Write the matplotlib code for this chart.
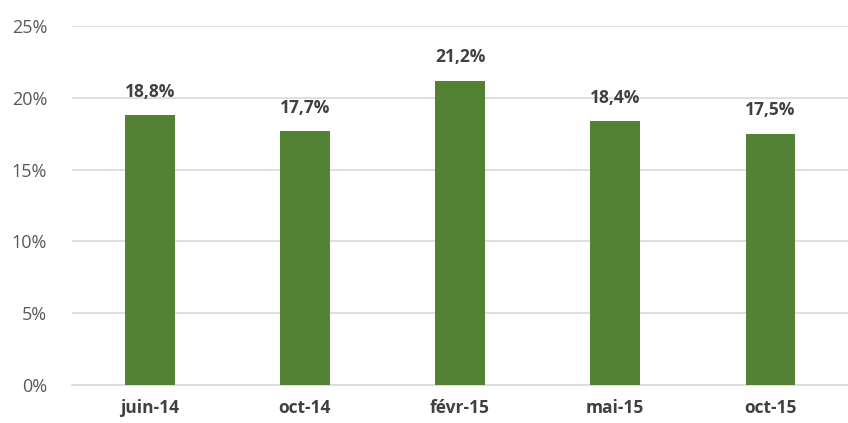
import matplotlib.pyplot as plt
from matplotlib.ticker import FuncFormatter

# ---------- DATA ----------
categories = ["juin-14", "oct-14", "févr-15", "mai-15", "oct-15"]
values = [18.8, 17.7, 21.2, 18.4, 17.5]
value_labels = ["18,8%", "17,7%", "21,2%", "18,4%", "17,5%"]
y_ticks = [0, 5, 10, 15, 20, 25]

GREEN = "#548235"
GRID = "#d9d9d9"
TICK = "#595959"
LABEL = "#404040"

plt.rcParams["font.family"] = ["Open Sans", "DejaVu Sans"]

fig = plt.figure(figsize=(8.48, 4.23), dpi=100)
ax = fig.add_axes([0.085, 0.09, 0.915, 0.848])

x = list(range(len(categories)))
ax.bar(x, values, width=0.32, color=GREEN, zorder=3)

for xi, v, lab in zip(x, values, value_labels):
    ax.text(xi, v + 1.0, lab, ha="center", va="bottom",
            fontsize=12.5, fontweight="bold", color=LABEL)

ax.set_xlim(-0.5, len(categories) - 0.5)
ax.set_ylim(0, 25)
ax.set_yticks(y_ticks)
ax.yaxis.set_major_formatter(FuncFormatter(lambda v, p: f"{v:.0f}%"))
ax.set_xticks(x)
ax.set_xticklabels(categories, fontsize=12.5, fontweight="bold", color=LABEL)
ax.tick_params(axis="y", labelsize=13, labelcolor=TICK, length=0, pad=18)
ax.tick_params(axis="x", length=0, pad=10)

ax.grid(axis="y", color=GRID, linewidth=1.2, zorder=0)
for s in ["top", "right", "left"]:
    ax.spines[s].set_visible(False)
ax.spines["bottom"].set_color(GRID)
ax.spines["bottom"].set_linewidth(1.2)

fig.savefig("out.png", dpi=100)
